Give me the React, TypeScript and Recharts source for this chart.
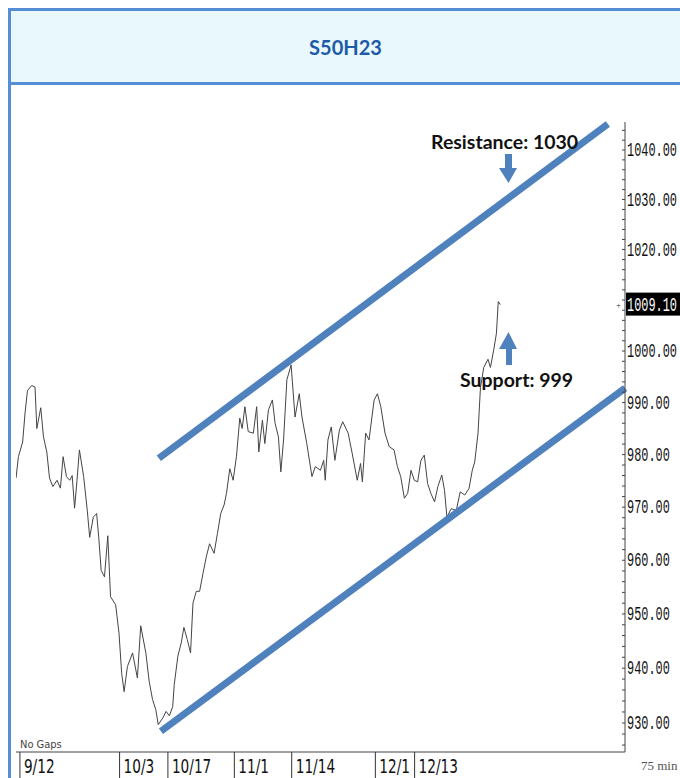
import { LineChart, Line, XAxis, YAxis, ReferenceLine } from "recharts";

// bar index (75 min bars) and close price
const bars = [
  0, 0.8, 2.2, 3, 3.8, 5.2, 6.3, 6.9, 8.2, 9.1, 10.2, 11.1, 12.2, 13.6, 14.7, 15.6, 16.7, 17.8, 18.6, 19.4,
  20.2, 21, 22.4, 23.6, 24.4, 25.6, 26.7, 27.4, 28.2, 29.3, 30.4, 31.3, 33, 34.1, 35, 35.8, 36.9, 38.6, 40.2, 41.3,
  43, 44.1, 45.2, 46.3, 47.1, 48.6, 49.7, 50.8, 51.9, 52.4, 53.6, 54.7, 55.6, 56.7, 57.8, 58.6, 59.7, 60.8, 61.9, 63,
  64.1, 65.6, 66.7, 67.8, 68.9, 69.7, 70.8, 71.9, 73, 74.1, 74.9, 75.8, 76.9, 78.6, 79.7, 80.4, 81.6, 82.4, 83.6, 84.9,
  85.8, 86.9, 87.7, 88.6, 89.7, 91.1, 92.4, 93.8, 94.7, 96.3, 98, 99.1, 100.8, 101.9, 102.4, 103.3, 104.4, 105.6, 107.1, 108.2,
  110, 111.3, 113, 114.1, 114.7, 115.8, 116.9, 118.6, 119.7, 120.8, 122.2, 123.6, 125.2, 126.3, 127.4, 128.6, 129.7, 130.8, 131.9, 133,
  134.1, 135.2, 136.3, 137.4, 138.6, 139.7, 141, 141.9, 142.7, 144.1, 145.8, 147.1, 148.6, 150, 151.1, 151.9, 153, 153.8, 154.9, 156.3,
  157.1, 158.2, 159.1, 159.7, 160.4,
];
const prices = [
  975.5, 979.6, 982.4, 988, 992.3, 993.3, 993, 985, 989, 983.4, 980.5, 975.5, 973.9, 975.1, 973.6, 979.6, 975.8, 975.1, 976, 969.8,
  975.1, 980.9, 975.8, 969.4, 964.3, 968.1, 968.8, 964.3, 958.1, 956.9, 964.6, 953.2, 951.7, 946.5, 939, 935.7, 940.3, 942.8, 938.2, 947.8,
  942.8, 937.6, 934.3, 932.4, 929.7, 930.9, 932.1, 931.3, 933, 937, 942.2, 944.6, 947.5, 945.3, 942.8, 952, 954.2, 954.2, 957.5, 960.6,
  963.1, 961.3, 965, 968.8, 970.4, 972.6, 977.3, 975.1, 979.6, 987, 985, 989.2, 984.4, 984.1, 989.2, 980.5, 986.6, 982.1, 988.6, 990.5,
  986, 983.4, 976.7, 982.8, 994.4, 997.3, 987.2, 991.7, 987.2, 982.1, 975.8, 977.7, 977, 978.9, 975.1, 982.8, 985.3, 978.9, 984.7, 986.3,
  984.1, 980.3, 975.1, 978.3, 974.8, 984.1, 982.8, 990.5, 991.7, 989.2, 984.1, 981.5, 980.9, 977.7, 975.8, 971.7, 972.6, 977, 975.1, 974.8,
  978.9, 979.9, 974.5, 972.6, 971, 973.9, 976.1, 973.2, 968.1, 969.7, 969.4, 972.9, 972.3, 973.5, 977, 978.6, 984.1, 992.9, 996.8, 998.4,
  996.8, 1000.2, 1003.5, 1009.7, 1009.1,
];

const dateLabels = ["9/12", "10/3", "10/17", "11/1", "11/14", "12/1", "12/13"];
const dateBars = [1.3, 34.3, 50.3, 72.3, 91.3, 119, 132];

const lastPrice = 1009.1;
const resistanceLine = [
  { bar: 47.3, price: 979.3 },
  { bar: 196, price: 1045.3 },
];
const supportLine = [
  { bar: 48, price: 928.5 },
  { bar: 201.7, price: 992.8 },
];

const data = bars.map((b, i) => ({ bar: b, price: prices[i] }));
const priceTicks: number[] = [];
for (let v = 926; v <= 1044; v += 2) priceTicks.push(v);
priceTicks.push(lastPrice);

const BLUE = "#4f81bd";
const FRAME = "#558ed5";
const MONO = "'Liberation Mono', 'DejaVu Sans Mono', monospace";
const NARROW = "'Liberation Sans Narrow', 'DejaVu Sans Condensed', 'Liberation Sans', sans-serif";

function DateTick(props: any) {
  const { x, y, payload } = props;
  const label = dateLabels[dateBars.indexOf(payload.value)];
  return (
    <g>
      <line x1={x} y1={y} x2={x} y2={y + 30} stroke="#333" strokeWidth={1} />
      <text
        x={0}
        y={0}
        fontSize={19}
        fill="#111"
        fontFamily={NARROW}
        transform={`translate(${x + 4}, ${y + 21}) scale(0.8, 1)`}
      >
        {label}
      </text>
    </g>
  );
}

function PriceLabel({ x, y, value, fill }: { x: number; y: number; value: number; fill: string }) {
  return (
    <text
      x={0}
      y={0}
      fontSize={17}
      fill={fill}
      fontFamily={MONO}
      transform={`translate(${x}, ${y}) scale(0.7, 1.2)`}
    >
      {value.toFixed(2)}
    </text>
  );
}

function PriceTick(props: any) {
  const { x, y, payload } = props;
  const v = payload.value;
  const isLast = v === lastPrice;
  // 1010 is hidden under the last-price box
  const major = !isLast && v % 10 === 0 && Math.abs(v - lastPrice) > 3;
  return (
    <g>
      {!isLast && <line x1={x - 3} y1={y} x2={x} y2={y} stroke="#444" strokeWidth={1} />}
      {isLast && (
        <g>
          <text x={x - 9} y={y + 3} fontSize={9} fill="#333">+</text>
          <rect x={x + 1} y={y - 12} width={55} height={23} fill="#000" />
          <PriceLabel x={x + 2} y={y + 6} value={v} fill="#fff" />
        </g>
      )}
      {major && <PriceLabel x={x + 2} y={y + 6} value={v} fill="#111" />}
    </g>
  );
}

export default function App() {
  return (
    <div style={{ position: "relative", width: 680, height: 778, overflow: "hidden", background: "#fff" }}>
      <style>{"body{margin:0;overflow:hidden}"}</style>
      <div style={{ position: "absolute", left: 8, top: 8, width: 3, height: 770, background: FRAME }} />
      <div style={{ position: "absolute", left: 8, top: 8, width: 672, height: 3, background: FRAME }} />
      <div style={{ position: "absolute", left: 11, top: 11, width: 669, height: 71, background: "#e8f8fd" }} />
      <div style={{ position: "absolute", left: 11, top: 82, width: 669, height: 3, background: FRAME }} />
      <div
        style={{
          position: "absolute",
          left: 11,
          top: 11,
          width: 669,
          height: 71,
          display: "flex",
          alignItems: "center",
          justifyContent: "center",
          fontFamily: "Lato, 'Open Sans', sans-serif",
          fontWeight: 700,
          fontSize: 20,
          color: "#1e5aa8",
        }}
      >
        S50H23
      </div>

      <div style={{ position: "absolute", left: 0, top: 0 }}>
        <LineChart width={680} height={778} data={data} margin={{ top: 122, right: 0, bottom: 0, left: 16 }}>
          <XAxis
            dataKey="bar"
            type="number"
            domain={[0, 201.67]}
            allowDataOverflow
            ticks={dateBars}
            interval={0}
            height={26}
            tickLine={false}
            tickSize={0}
            tickMargin={0}
            axisLine={{ stroke: "#444" }}
            tick={<DateTick />}
          />
          <YAxis
            orientation="right"
            width={55}
            scale="log"
            domain={[924.75, 1045.7]}
            allowDataOverflow
            ticks={priceTicks}
            interval={0}
            tickLine={false}
            tickSize={0}
            tickMargin={0}
            axisLine={{ stroke: "#444" }}
            tick={<PriceTick />}
          />
          <Line
            dataKey="price"
            type="linear"
            stroke="#444"
            strokeWidth={1}
            dot={false}
            isAnimationActive={false}
          />
          <ReferenceLine
            segment={[
              { x: resistanceLine[0].bar, y: resistanceLine[0].price },
              { x: resistanceLine[1].bar, y: resistanceLine[1].price },
            ]}
            stroke={BLUE}
            strokeWidth={7}
            ifOverflow="visible"
          />
          <ReferenceLine
            segment={[
              { x: supportLine[0].bar, y: supportLine[0].price },
              { x: supportLine[1].bar, y: supportLine[1].price },
            ]}
            stroke={BLUE}
            strokeWidth={7}
            ifOverflow="visible"
          />
        </LineChart>
      </div>

      <svg style={{ position: "absolute", left: 0, top: 0 }} width={680} height={778}>
        <text x={431} y={149} fontSize={19.5} fontWeight={700} fill="#111" fontFamily="Lato, 'Open Sans', sans-serif">
          Resistance: 1030
        </text>
        <polygon points="505,154 512,154 512,168 517,168 508.5,183 499,168 505,168" fill={BLUE} />
        <text x={460} y={387} fontSize={19.5} fontWeight={700} fill="#111" fontFamily="Lato, 'Open Sans', sans-serif">
          Support: 999
        </text>
        <polygon points="506,365 512,365 512,349 517,349 508.5,332 499,349 506,349" fill={BLUE} />
        <text x={20} y={748} fontSize={11} fill="#444" fontFamily={NARROW}>
          No Gaps
        </text>
        <text x={641} y={770} fontSize={13} fill="#555" fontFamily="'Liberation Serif', serif">
          75 min
        </text>
      </svg>
    </div>
  );
}
